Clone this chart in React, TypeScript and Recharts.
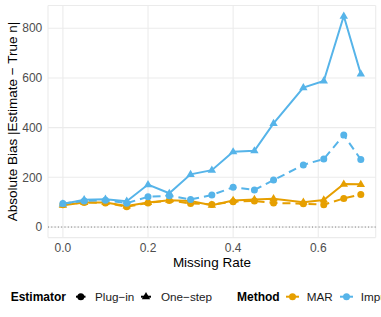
import React from 'react';
import { LineChart, Line, XAxis, YAxis, CartesianGrid, ReferenceLine } from 'recharts';

const missingRate = [0, 0.05, 0.1, 0.15, 0.2, 0.25, 0.3, 0.35, 0.4, 0.45, 0.495, 0.565, 0.613, 0.66, 0.7];
const marPlugin = [90, 99, 97, 82, 97, 107, 95, 91, 102, 105, 97, 94, 90, 115, 131];
const marOneStep = [88, 99, 99, 85, 99, 108, 105, 88, 107, 111, 114, 100, 109, 173, 172];
const imputePlugin = [95, 105, 108, 96, 122, 126, 111, 129, 160, 149, 189, 250, 274, 370, 272];
const imputeOneStep = [93, 110, 112, 104, 171, 136, 212, 229, 303, 307, 417, 561, 588, 849, 616];

const xTicks = [0, 0.2, 0.4, 0.6];
const yTicks = [0, 200, 400, 600, 800];

const MAR_COLOR = '#E69F00';
const IMP_COLOR = '#56B4E9';
const FONT = '"Liberation Sans", Arial, Helvetica, sans-serif';

const data = missingRate.map((x, i) => ({
  x,
  marPlugin: marPlugin[i],
  marOneStep: marOneStep[i],
  imputePlugin: imputePlugin[i],
  imputeOneStep: imputeOneStep[i],
}));

const circleDot = (color: string) => (props: any) => {
  const { cx, cy, index } = props;
  if (cx == null || cy == null) return <g key={index} />;
  return <circle key={index} cx={cx} cy={cy} r={3.5} fill={color} />;
};

const triangleDot = (color: string) => (props: any) => {
  const { cx, cy, index } = props;
  if (cx == null || cy == null) return <g key={index} />;
  const pts = `${cx - 4.2},${cy + 2.6} ${cx + 4.2},${cy + 2.6} ${cx},${cy - 4.6}`;
  return <polygon key={index} points={pts} fill={color} />;
};

const tickStyle = { fontSize: 12, fill: '#4D4D4D', fontFamily: FONT };

const Legend2 = () => {
  const cy = 296.7;
  const base = 301;
  return (
    <svg width={381} height={317} style={{ position: 'absolute', left: 0, top: 0, pointerEvents: 'none' }}>
      <text x={10.7} y={base} fontSize={12} fontWeight="bold" fontFamily={FONT} fill="#000">Estimator</text>
      <line x1={76} y1={cy} x2={85.5} y2={cy} stroke="#000" strokeWidth={2} />
      <circle cx={80.8} cy={cy} r={3.5} fill="#000" />
      <text x={95} y={base} fontSize={11.7} fontFamily={FONT} fill="#1a1a1a">Plug−in</text>
      <line x1={141} y1={cy} x2={151} y2={cy} stroke="#000" strokeWidth={2} />
      <polygon points={`${146 - 4.2},${cy + 2.6} ${146 + 4.2},${cy + 2.6} ${146},${cy - 4.6}`} fill="#000" />
      <text x={161} y={base} fontSize={11.7} fontFamily={FONT} fill="#1a1a1a">One−step</text>
      <text x={237} y={base} fontSize={12} fontWeight="bold" fontFamily={FONT} fill="#000">Method</text>
      <line x1={286} y1={cy} x2={299} y2={cy} stroke={MAR_COLOR} strokeWidth={2} />
      <circle cx={292.5} cy={cy} r={3.5} fill={MAR_COLOR} />
      <text x={306.7} y={base} fontSize={11.7} fontFamily={FONT} fill="#1a1a1a">MAR</text>
      <line x1={340} y1={cy} x2={353} y2={cy} stroke={IMP_COLOR} strokeWidth={2} />
      <circle cx={346.5} cy={cy} r={3.5} fill={IMP_COLOR} />
      <text x={360.7} y={base} fontSize={11.7} fontFamily={FONT} fill="#1a1a1a">Impute</text>
    </svg>
  );
};

export default function App() {
  return (
    <div style={{ position: 'absolute', left: 0, top: 0, width: 381, height: 317, background: '#fff', overflow: 'hidden' }}>
      <LineChart
        width={381}
        height={317}
        data={data}
        margin={{ top: 5.5, right: 5.3, bottom: 0, left: 0 }}
      >
        <CartesianGrid stroke="#EBEBEB" strokeWidth={1.07} />
        <XAxis
          dataKey="x"
          type="number"
          domain={[-0.035, 0.735]}
          ticks={xTicks}
          allowDataOverflow
          tickFormatter={(v: number) => v.toFixed(1)}
          axisLine={false}
          tickLine={false}
          tickSize={0}
          tickMargin={6.2}
          tick={tickStyle}
          height={79.4}
          label={() => (
            <text x={211.9} y={267} textAnchor="middle" fontSize={13.5} fontFamily={FONT} fill="#000">
              Missing Rate
            </text>
          )}
        />
        <YAxis
          type="number"
          domain={[-42.5, 891.5]}
          ticks={yTicks}
          allowDataOverflow
          axisLine={false}
          tickLine={false}
          tickSize={0}
          tickMargin={5.7}
          tick={tickStyle}
          width={48}
          label={() => (
            <text
              x={12}
              y={121.5}
              transform="rotate(-90 12 121.5)"
              textAnchor="middle"
              dominantBaseline="central"
              fontSize={13.5}
              fontFamily={FONT}
              fill="#000"
            >
              Absolute Bias |Estimate − True n|
            </text>
          )}
        />
        <ReferenceLine y={0} stroke="#777" strokeWidth={1} strokeDasharray="1 2.3" />
        <Line
          dataKey="marPlugin"
          stroke={MAR_COLOR}
          strokeWidth={2}
          strokeDasharray="8 5"
          dot={circleDot(MAR_COLOR)}
          activeDot={false}
          isAnimationActive={false}
          type="linear"
        />
        <Line
          dataKey="marOneStep"
          stroke={MAR_COLOR}
          strokeWidth={2}
          dot={triangleDot(MAR_COLOR)}
          activeDot={false}
          isAnimationActive={false}
          type="linear"
        />
        <Line
          dataKey="imputePlugin"
          stroke={IMP_COLOR}
          strokeWidth={2}
          strokeDasharray="8 5"
          dot={circleDot(IMP_COLOR)}
          activeDot={false}
          isAnimationActive={false}
          type="linear"
        />
        <Line
          dataKey="imputeOneStep"
          stroke={IMP_COLOR}
          strokeWidth={2}
          dot={triangleDot(IMP_COLOR)}
          activeDot={false}
          isAnimationActive={false}
          type="linear"
        />
      </LineChart>
      <Legend2 />
    </div>
  );
}
